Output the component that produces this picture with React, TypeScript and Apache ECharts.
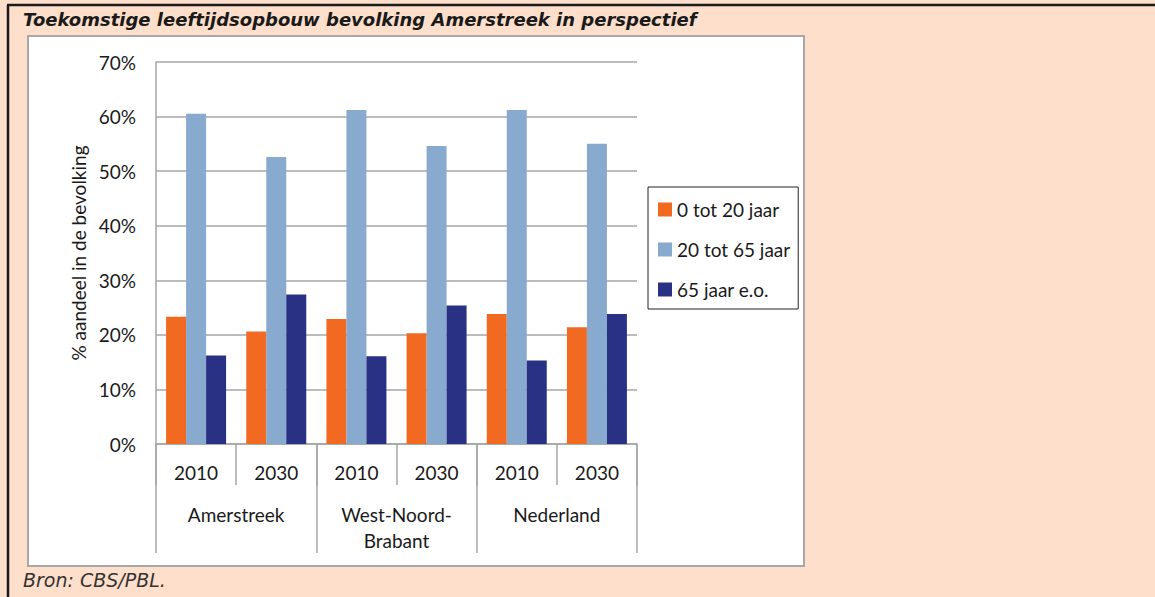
import React, { useEffect, useRef } from "react";
import * as echarts from "echarts";

const years = ["2010", "2030", "2010", "2030", "2010", "2030"];
const regions = ["Amerstreek", "West-Noord-\nBrabant", "Nederland"];
const seriesNames = ["0 tot 20 jaar", "20 tot 65 jaar", "65 jaar e.o."];
const young = [23.3, 20.6, 22.9, 20.3, 23.8, 21.4];
const working = [60.5, 52.6, 61.2, 54.6, 61.2, 55.0];
const elderly = [16.2, 27.4, 16.1, 25.4, 15.3, 23.8];
const yTicks = { min: 0, max: 70, interval: 10 };
const colors = ["#F26A22", "#88AACE", "#293184"];

export default function App() {
  const ref = useRef<HTMLDivElement>(null);
  useEffect(() => {
    if (!ref.current) return;
    const chart = echarts.init(ref.current, null, { renderer: "svg" });
    const font = "Lato, 'Open Sans', sans-serif";
    const gray = "#A6A6A6";
    const values = [young, working, elderly];
    chart.setOption({
      animation: false,
      backgroundColor: "#FEDFCB",
      graphic: [
        { type: "rect", shape: { x: 28, y: 36, width: 776, height: 530 }, style: { fill: "#FFFFFF", stroke: "#A8A8A8", lineWidth: 2 }, z: -10 },
        { type: "line", shape: { x1: 8, y1: 5, x2: 8, y2: 597 }, style: { stroke: "#1a1a1a", lineWidth: 2.5 } },
        { type: "line", shape: { x1: 7, y1: 5, x2: 1155, y2: 5 }, style: { stroke: "#1a1a1a", lineWidth: 2.5 } },
        {
          type: "text",
          x: 23,
          y: 19,
          style: {
            text: "Toekomstige leeftijdsopbouw bevolking Amerstreek in perspectief",
            fontFamily: "DejaVu Sans",
            fontWeight: "bold",
            fontStyle: "italic",
            fontSize: 18,
            fill: "#1a1a1a",
            verticalAlign: "middle",
          },
        },
        {
          type: "text",
          x: 23,
          y: 580,
          style: {
            text: "Bron: CBS/PBL.",
            fontFamily: "DejaVu Sans",
            fontStyle: "italic",
            fontSize: 19,
            fill: "#333333",
            verticalAlign: "middle",
          },
        },
      ],
      grid: { left: 156, top: 62, width: 481, height: 382, containLabel: false },
      legend: {
        orient: "vertical",
        left: 648,
        top: 187,
        padding: [13, 8, 10, 10],
        itemWidth: 14,
        itemHeight: 14,
        itemGap: 21,
        icon: "rect",
        borderColor: "#222222",
        borderWidth: 1,
        backgroundColor: "#FFFFFF",
        textStyle: { fontFamily: font, fontSize: 19, color: "#1a1a1a", padding: [0, 0, 0, 0] },
        data: seriesNames,
      },
      xAxis: [
        {
          type: "category",
          data: years,
          position: "bottom",
          axisLine: { show: true, lineStyle: { color: gray, width: 1.5 } },
          axisTick: { show: true, interval: 0, length: 41, lineStyle: { color: gray, width: 1.5 } },
          axisLabel: { interval: 0, margin: 19, fontFamily: font, fontSize: 19, color: "#1a1a1a" },
        },
        {
          type: "category",
          data: regions,
          position: "bottom",
          axisLine: { show: false },
          axisTick: { show: true, interval: 0, length: 109, lineStyle: { color: gray, width: 1.5 } },
          axisLabel: { interval: 0, margin: 57, fontFamily: font, fontSize: 19, color: "#1a1a1a", lineHeight: 26 },
        },
      ],
      yAxis: {
        type: "value",
        min: yTicks.min,
        max: yTicks.max,
        interval: yTicks.interval,
        name: "% aandeel in de bevolking",
        nameLocation: "middle",
        nameRotate: 90,
        nameGap: 68,
        nameTextStyle: { fontFamily: font, fontSize: 19, color: "#1a1a1a" },
        axisLine: { show: true, lineStyle: { color: gray, width: 1.5 } },
        axisTick: { show: false },
        splitLine: { show: true, lineStyle: { color: gray, width: 1.5 } },
        axisLabel: { formatter: "{value}%", margin: 20, fontFamily: font, fontSize: 19, color: "#1a1a1a" },
      },
      series: seriesNames.map((name, i) => ({
        name,
        type: "bar",
        xAxisIndex: 0,
        data: values[i],
        barWidth: 20,
        barGap: "0%",
        itemStyle: { color: colors[i] },
      })),
    });
    return () => chart.dispose();
  }, []);
  return (
    <div style={{ position: "fixed", left: 0, top: 0, width: 1155, height: 597 }}>
      <div ref={ref} style={{ width: 1155, height: 597 }} />
    </div>
  );
}
